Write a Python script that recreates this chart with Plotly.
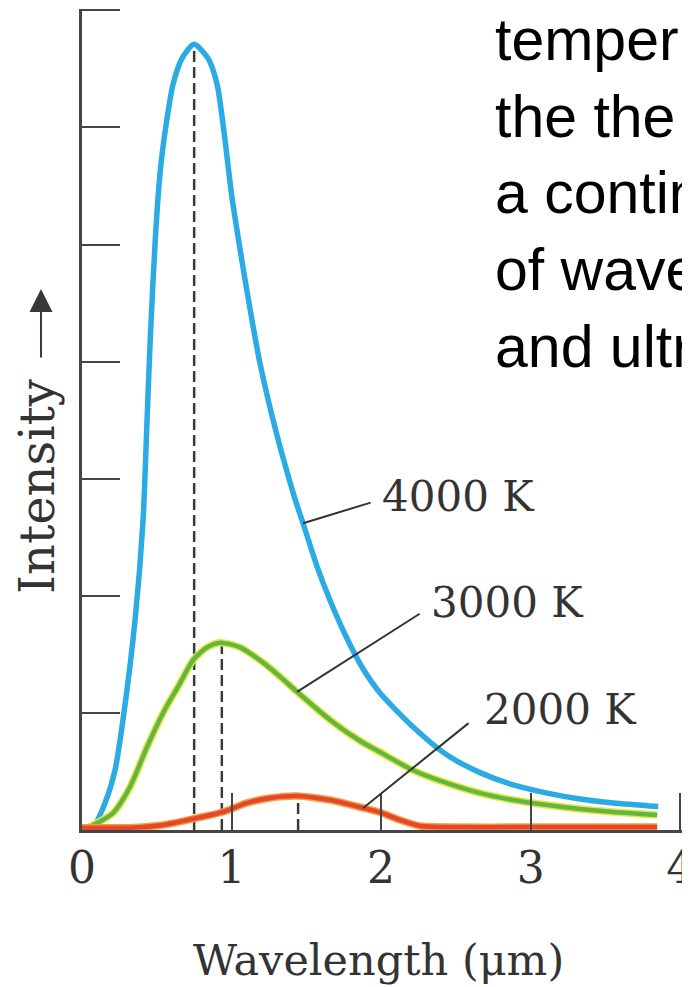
import numpy as np
import plotly.graph_objects as go

# ---------------- data ----------------
wl_4000 = [0.0, 0.074, 0.154, 0.221, 0.274, 0.355, 0.408, 0.435, 0.458, 0.492, 0.525, 0.569,
           0.609, 0.669, 0.749, 0.843, 0.903, 0.950, 1.003, 1.080, 1.117, 1.191, 1.304, 1.371,
           1.431, 1.478, 1.572, 1.659, 1.759, 1.873, 1.993, 2.214, 2.441, 2.662, 2.883, 3.110,
           3.331, 3.552, 3.853]
int_4000 = [0.0, 0.026, 0.231, 0.513, 0.940, 1.795, 2.64, 3.50, 4.24, 5.09, 5.65, 6.08,
            6.37, 6.59, 6.71, 6.59, 6.37, 5.96, 5.40, 4.78, 4.50, 3.98, 3.37, 3.06,
            2.80, 2.62, 2.25, 1.96, 1.67, 1.39, 1.17, 0.88, 0.64, 0.49, 0.385, 0.315,
            0.265, 0.23, 0.20]

wl_3000 = [0.0, 0.033, 0.207, 0.321, 0.435, 0.542, 0.656, 0.742, 0.836, 0.923, 1.057, 1.211,
           1.324, 1.438, 1.659, 1.860, 1.993, 2.214, 2.441, 2.662, 2.883, 3.110, 3.331, 3.552,
           3.846]
int_3000 = [0.0, 0.017, 0.145, 0.368, 0.709, 1.00, 1.255, 1.45, 1.56, 1.60, 1.56, 1.43,
            1.31, 1.18, 0.94, 0.76, 0.665, 0.51, 0.40, 0.315, 0.256, 0.213, 0.179, 0.153,
            0.128]

wl_2000 = [0.0, 0.321, 0.542, 0.769, 0.943, 1.104, 1.258, 1.438, 1.659, 1.880, 1.993, 2.127,
           2.261, 2.45, 3.0, 3.5, 3.846]
int_2000 = [0.02, 0.02, 0.043, 0.103, 0.154, 0.231, 0.274, 0.291, 0.256, 0.188, 0.150, 0.085,
            0.034, 0.025, 0.025, 0.025, 0.025]

labels = ["4000 K", "3000 K", "2000 K"]
peak_wl = [0.750, 0.935, 1.445]           # dashed lines at the peaks
leader_wl = [1.478, 1.438, 1.880]         # where the label leader lines touch the curves

x_ticks = [0, 1, 2, 3, 4]
x_ticktext = ["0", "1", "2", "3", "4"]
y_ticks = [0, 1, 2, 3, 4, 5, 6, 7]

slide_text = ["temper", "the the", "a contin", "of wave", "and ultr"]

# ---------------- figure ----------------
BODY = 8                      # default page margin around the plot div
W, H = 690 - BODY, 987 - BODY
X_RANGE = [0, 4.012]          # a hair past the last tick so the end ticks are kept
Y_RANGE = [0, 7.012]
PX_PER_UNIT = 149.5
ML, MT, MB = 82 - BODY, 9 - BODY, 157
PW = PX_PER_UNIT * X_RANGE[1]
MR = W - ML - PW
PH = H - MT - MB

def px_x(p):  # window pixel -> paper x
    return (p - BODY - ML) / PW

def px_y(p):  # window pixel -> paper y
    return (H - MB - (p - BODY)) / PH

AX = "#454545"
TXT = "#333333"
SERIF = "DejaVu Serif"

curves = [(wl_4000, int_4000), (wl_3000, int_3000), (wl_2000, int_2000)]
under = [None, "#E6E838", "#F2A03A"]
main = ["#2AABE3", "#62B548", "#E5462E"]
under_w = [0, 7.5, 7.5]
main_w = [5.5, 4.5, 4.5]

fig = go.Figure()

# dashed peak lines
for (wl, iv), pw in zip(curves, peak_wl):
    top = float(np.interp(pw, wl, iv))
    fig.add_trace(go.Scatter(x=[pw, pw], y=[0, top], mode="lines",
                             line=dict(color="#3a3a3a", width=2.5, dash="11px,5px"),
                             hoverinfo="skip"))

for (wl, iv), uc, mc, uw, mw in zip(curves, under, main, under_w, main_w):
    if uc:
        fig.add_trace(go.Scatter(x=wl, y=iv, mode="lines",
                                 line=dict(color=uc, width=uw, shape="spline", smoothing=0.7),
                                 hoverinfo="skip"))
    fig.add_trace(go.Scatter(x=wl, y=iv, mode="lines",
                             line=dict(color=mc, width=mw, shape="spline", smoothing=0.7),
                             hoverinfo="skip"))

annotations = []

# label leader lines and labels
tails = [(1.940, 2.80), (2.268, 1.855), (2.595, 0.923)]
label_pos = [(1.993, 2.846), (2.321, 1.94), (2.676, 1.026)]
for (wl, iv), lw, (tx, ty), (lx, ly), lab in zip(curves, leader_wl, tails, label_pos, labels):
    hy = float(np.interp(lw, wl, iv))
    annotations.append(dict(x=lw, y=hy, xref="x", yref="y", ax=tx, ay=ty,
                            axref="x", ayref="y", text="", showarrow=True,
                            arrowhead=0, arrowwidth=2, arrowcolor="#333333",
                            standoff=0, startstandoff=0))
    annotations.append(dict(x=lx, y=ly, xref="x", yref="y", text=lab, showarrow=False,
                            xanchor="left", yanchor="middle",
                            font=dict(family=SERIF, size=42, color=TXT)))

# axis titles
annotations.append(dict(x=px_x(378), y=px_y(960), xref="paper", yref="paper",
                        text="Wavelength (μm)", showarrow=False, xanchor="center",
                        yanchor="middle", font=dict(family=SERIF, size=43, color=TXT)))
annotations.append(dict(x=px_x(37), y=px_y(486), xref="paper", yref="paper",
                        text="Intensity", showarrow=False, textangle=-90,
                        xanchor="center", yanchor="middle",
                        font=dict(family=SERIF, size=48, color=TXT)))
annotations.append(dict(x=px_x(41), y=px_y(289), xref="paper", yref="paper",
                        ax=0, ay=70, text="", showarrow=True, arrowhead=2,
                        arrowsize=2.3, arrowwidth=2, arrowcolor="#3a3a3a"))

# overlapping slide text (top right)
for i, s in enumerate(slide_text):
    annotations.append(dict(x=px_x(493), y=px_y(40 + 76.7 * i), xref="paper", yref="paper",
                            text=s, showarrow=False, xanchor="left", yanchor="middle",
                            font=dict(family="Liberation Sans", size=59, color="#000000")))

fig.update_layout(
    width=W, height=H,
    margin=dict(l=ML, r=MR, t=MT, b=MB),
    paper_bgcolor="white", plot_bgcolor="white",
    showlegend=False,
    annotations=annotations,
    xaxis=dict(range=X_RANGE, tickvals=x_ticks, ticktext=x_ticktext,
               ticks="inside", ticklen=37, tickwidth=2, tickcolor=AX,
               showline=True, linecolor=AX, linewidth=2.5,
               showgrid=False, zeroline=False, automargin=False,
               tickfont=dict(family=SERIF, size=44, color=TXT),
               ticklabelstandoff=-3, ticklabeloverflow="allow"),
    yaxis=dict(range=Y_RANGE, tickvals=y_ticks, showticklabels=False,
               ticks="inside", ticklen=38, tickwidth=2, tickcolor=AX,
               showline=True, linecolor=AX, linewidth=2.5,
               showgrid=False, zeroline=False, automargin=False),
)

fig.write_html("out.html")
